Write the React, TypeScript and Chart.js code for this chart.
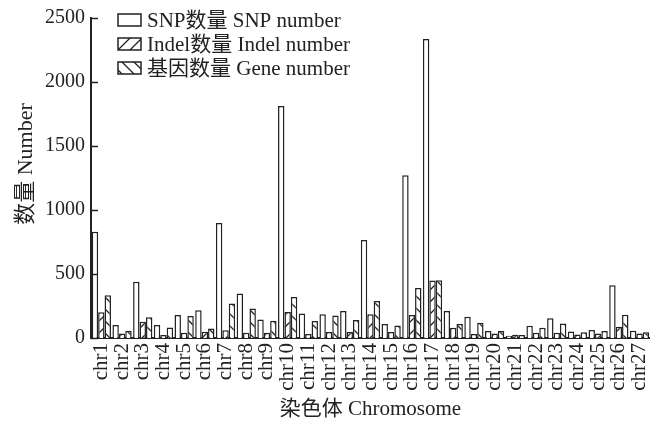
import React, { useEffect, useRef } from "react";
import { Chart, registerables } from "chart.js";

Chart.register(...registerables);

const categories = [
  "chr1", "chr2", "chr3", "chr4", "chr5", "chr6", "chr7", "chr8", "chr9",
  "chr10", "chr11", "chr12", "chr13", "chr14", "chr15", "chr16", "chr17", "chr18",
  "chr19", "chr20", "chr21", "chr22", "chr23", "chr24", "chr25", "chr26", "chr27",
];

const snpValues = [
  830, 101, 440, 101, 179, 217, 898, 347, 145,
  1812, 191, 186, 210, 766, 109, 1272, 2335, 210,
  166, 54, 18, 95, 155, 50, 62, 412, 57,
];

const indelValues = [
  202, 36, 127, 23, 41, 49, 60, 41, 41,
  204, 31, 47, 47, 186, 47, 179, 450, 80,
  31, 36, 25, 41, 41, 28, 36, 88, 36,
];

const geneValues = [
  334, 57, 163, 83, 171, 75, 269, 230, 134,
  321, 132, 176, 140, 290, 98, 391, 452, 109,
  119, 54, 23, 80, 114, 44, 54, 182, 44,
];

const seriesLabels = ["SNP数量 SNP number", "Indel数量 Indel number", "基因数量 Gene number"];
const yTicks = [0, 500, 1000, 1500, 2000, 2500];
const yTitle = "数量 Number";
const xTitle = "染色体 Chromosome";

const FONT = "'Liberation Serif', 'Times New Roman', 'Noto Sans CJK SC', serif";

function makeHatch(dir: "/" | "\\"): CanvasPattern | string {
  const s = 12;
  const c = document.createElement("canvas");
  c.width = s;
  c.height = s;
  const g = c.getContext("2d");
  if (!g) return "#fff";
  g.fillStyle = "#fff";
  g.fillRect(0, 0, s, s);
  g.strokeStyle = "#222";
  g.lineWidth = 1.3;
  g.beginPath();
  if (dir === "/") {
    g.moveTo(-2, s + 2); g.lineTo(s + 2, -2);
    g.moveTo(-2, 2); g.lineTo(2, -2);
    g.moveTo(s - 2, s + 2); g.lineTo(s + 2, s - 2);
  } else {
    g.moveTo(-2, -2); g.lineTo(s + 2, s + 2);
    g.moveTo(s - 2, -2); g.lineTo(s + 2, 2);
    g.moveTo(-2, s - 2); g.lineTo(2, s + 2);
  }
  g.stroke();
  const p = g.createPattern(c, "repeat");
  return p || "#fff";
}

export default function App() {
  const ref = useRef<HTMLCanvasElement | null>(null);

  useEffect(() => {
    document.body.style.margin = "0";
    const canvas = ref.current;
    if (!canvas) return;
    const fills = ["#ffffff", makeHatch("/"), makeHatch("\\")];

    const inwardTicks = {
      id: "inwardTicks",
      afterDraw(chart: any) {
        const ctx = chart.ctx;
        const y = chart.scales.y;
        const left = chart.chartArea.left;
        ctx.save();
        ctx.strokeStyle = "#222";
        ctx.lineWidth = 1.5;
        yTicks.forEach((v) => {
          const py = Math.round(y.getPixelForValue(v)) + 0.5;
          ctx.beginPath();
          ctx.moveTo(left, py);
          ctx.lineTo(left + 7, py);
          ctx.stroke();
        });
        // y axis title
        ctx.save();
        ctx.translate(26, 164);
        ctx.rotate(-Math.PI / 2);
        ctx.font = `22px ${FONT}`;
        ctx.textAlign = "center";
        ctx.textBaseline = "middle";
        ctx.fillStyle = "#222";
        ctx.fillText(yTitle, 0, 0);
        ctx.restore();
        ctx.restore();
      },
    };

    const legendPlugin = {
      id: "customLegend",
      afterDraw(chart: any) {
        const ctx = chart.ctx;
        ctx.save();
        ctx.font = `21px ${FONT}`;
        ctx.textBaseline = "middle";
        ctx.fillStyle = "#222";
        chart.data.datasets.forEach((ds: any, i: number) => {
          const cy = 20 + i * 24;
          const bx = 118, bw = 23, bh = 12;
          ctx.fillStyle = fills[i] as any;
          ctx.fillRect(bx, cy - bh / 2, bw, bh);
          ctx.strokeStyle = "#222";
          ctx.lineWidth = 1.5;
          ctx.strokeRect(bx, cy - bh / 2, bw, bh);
          ctx.fillStyle = "#222";
          ctx.fillText(ds.label, 147, cy + 1);
        });
        ctx.restore();
      },
    };

    const chart = new Chart(canvas, {
      type: "bar",
      data: {
        labels: categories,
        datasets: [
          { label: seriesLabels[0], data: snpValues, backgroundColor: fills[0] as any },
          { label: seriesLabels[1], data: indelValues, backgroundColor: fills[1] as any },
          { label: seriesLabels[2], data: geneValues, backgroundColor: fills[2] as any },
        ].map((d) => ({
          ...d,
          borderColor: "#222",
          borderWidth: 1.5,
          categoryPercentage: 0.93,
          barPercentage: 1,
        })),
      },
      options: {
        animation: false,
        responsive: false,
        maintainAspectRatio: false,
        layout: { padding: { left: 15, top: 16, right: 14, bottom: 0 } },
        plugins: {
          legend: { display: false },
          tooltip: { enabled: false },
        },
        scales: {
          x: {
            grid: { display: false, drawTicks: false },
            border: { display: true, color: "#222", width: 2 },
            ticks: {
              autoSkip: false,
              minRotation: 90,
              maxRotation: 90,
              padding: 5,
              color: "#222",
              font: { family: FONT, size: 21 },
            },
            title: {
              display: true,
              text: xTitle,
              color: "#222",
              padding: { top: 0, bottom: 4 },
              font: { family: FONT, size: 21 },
            },
            afterFit(scale: any) {
              scale.height = 88;
            },
          },
          y: {
            min: 0,
            max: 2500,
            grid: { display: false, drawTicks: false },
            border: { display: true, color: "#222", width: 2 },
            afterBuildTicks(scale: any) {
              scale.ticks = yTicks.map((v) => ({ value: v }));
            },
            ticks: {
              padding: 6,
              color: "#222",
              font: { family: FONT, size: 20 },
              callback: (v: any) => String(v),
            },
            title: { display: false },
            afterFit(scale: any) {
              scale.width = 76;
            },
          },
        },
      },
      plugins: [inwardTicks, legendPlugin],
    } as any);

    return () => chart.destroy();
  }, []);

  return (
    <div style={{ width: 670, height: 426, background: "#fff" }}>
      <canvas ref={ref} width={670} height={426} style={{ display: "block" }} />
    </div>
  );
}
